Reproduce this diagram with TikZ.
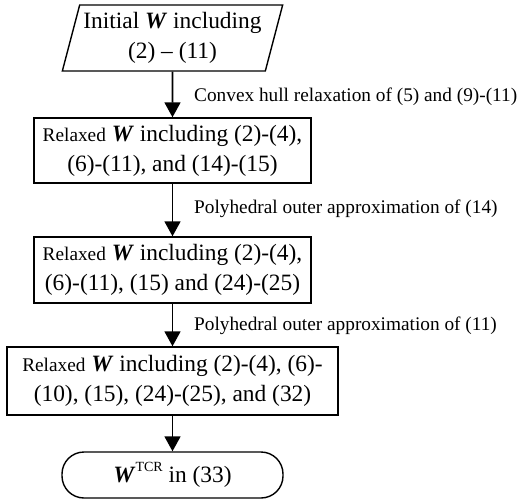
\documentclass[tikz,border=0pt]{standalone}
\usepackage{fontspec}
\setmainfont{Liberation Serif}
\usetikzlibrary{arrows.meta,shapes.geometric}

\newcommand{\grande}{\fontsize{23.4}{30}\selectfont}
\newcommand{\piccolo}{\fontsize{19.3}{22}\selectfont}
\newcommand{\W}{\textbf{\textit{W}}}

\begin{document}
\begin{tikzpicture}[x=1pt,y=-1pt,
  blocco/.style={draw, line width=1.4pt, align=center, inner sep=0pt, font=\grande},
  freccia/.style={line width=1.8pt, -{Triangle[width=16pt,length=15pt]}},
  etichetta/.style={anchor=west, inner sep=0pt, font=\piccolo}]

\useasboundingbox (0,0) rectangle (519,500);

\node[blocco, trapezium, trapezium left angle=72, trapezium right angle=108,
  trapezium stretches=true, minimum width=221pt, minimum height=66pt]
  (iniz) at (172.5,38) {Initial \W{} including\\(2) \textendash{} (11)};

\node[blocco, minimum width=277pt, minimum height=65pt] (ril1) at (172.5,150.5)
  {{\piccolo Relaxed} \W{} including (2)-(4),\\(6)-(11), and (14)-(15)};

\node[blocco, minimum width=277pt, minimum height=66pt] (ril2) at (172.5,270)
  {{\piccolo Relaxed} \W{} including (2)-(4),\\(6)-(11), (15) and (24)-(25)};

\node[blocco, minimum width=331pt, minimum height=68pt] (ril3) at (172.5,381)
  {{\piccolo Relaxed} \W{} including (2)-(4), (6)-\\(10), (15), (24)-(25), and (32)};

\node[blocco, minimum width=221pt, minimum height=46pt, rounded corners=22pt]
  (fine) at (172.5,475) {\W\raisebox{0.5em}{\fontsize{14}{14}\selectfont TCR} in (33)};

\draw[freccia] (iniz) -- (ril1);
\draw[freccia] (ril1) -- (ril2);
\draw[freccia] (ril2) -- (ril3);
\draw[freccia] (ril3) -- (fine);

\node[etichetta] (lab1) at (194,97) {Convex hull relaxation of (5) and (9)-(11)};
\node[etichetta] (lab2) at (194,209) {Polyhedral outer approximation of (14)};
\node[etichetta] (lab3) at (194,326) {Polyhedral outer approximation of (11)};

\end{tikzpicture}
\end{document}
